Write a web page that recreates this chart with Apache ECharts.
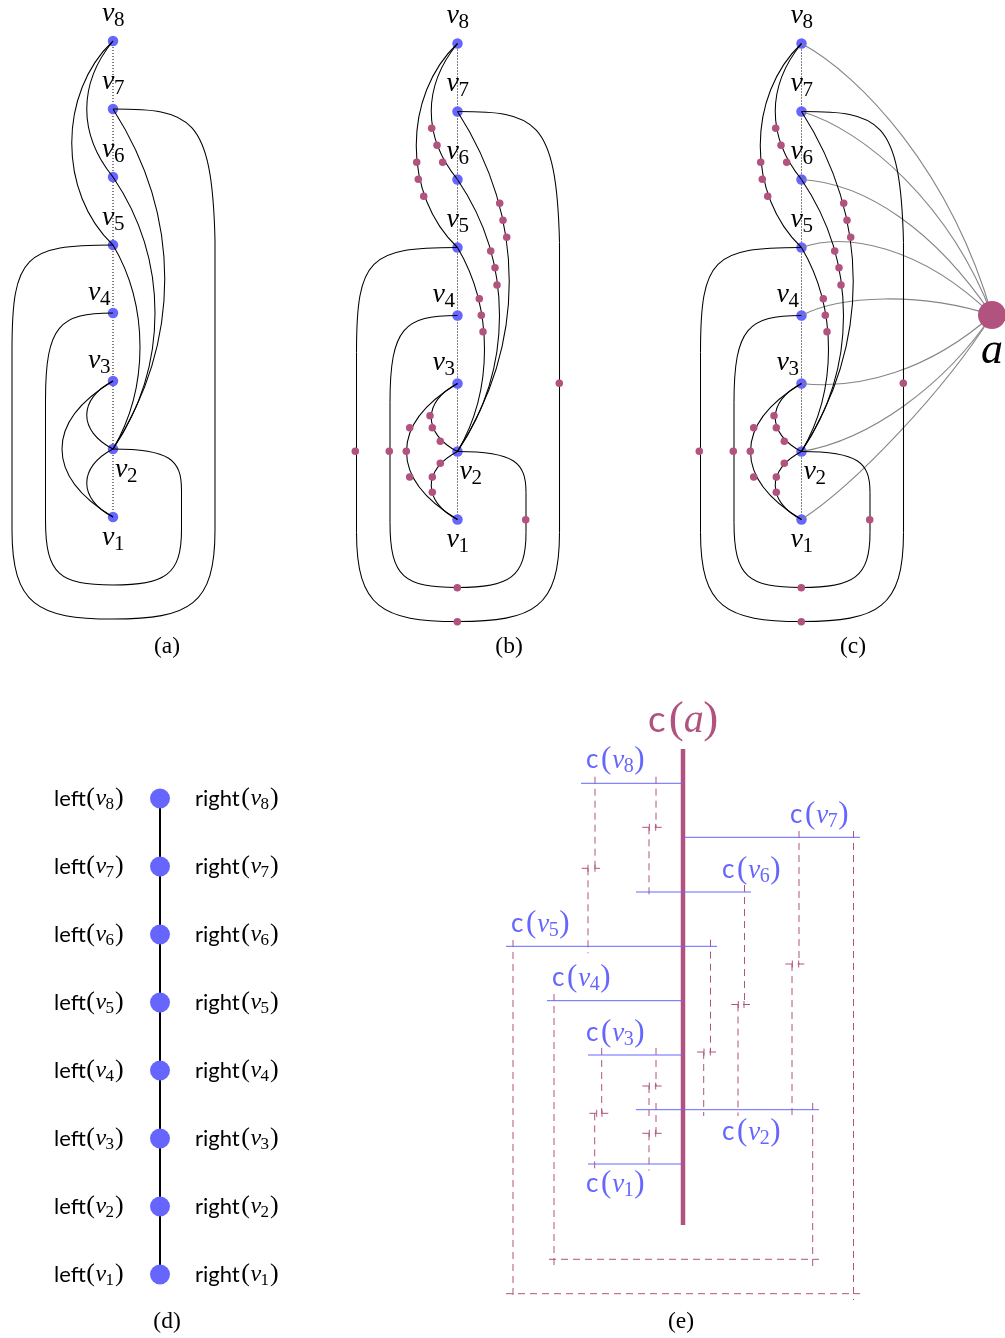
<!DOCTYPE html>
<html><head><meta charset="utf-8">
<style>html,body{margin:0;padding:0;background:#fff}#c{width:1005px;height:1338px}</style>
<script src="https://cdn.jsdelivr.net/npm/echarts@6/dist/echarts.min.js"></script>
</head><body><div id="c"></div>
<script>
// ---------- data (values are read in the picture's own coordinate system) ----------
const vertexX = 113;
const vertexY = [517, 449, 381, 313, 245, 177, 109, 41];
const panelShift = [[0, 0], [344.5, 2.5], [688.5, 2.5]];
const vertexLabelNames = ['1', '2', '3', '4', '5', '6', '7', '8'];
const vertexLabelX = [102, 115, 88, 88, 102, 102, 102, 102];
const vertexLabelBase = [547, 479, 370, 302, 227, 159, 91, 23];
const blackEdges = [
  [[113,41],[58,93,58,193,113,245]],
  [[113,41],[78,84,78,134,113,177]],
  [[113,109],[182,217,182,341,113,449]],
  [[113,177],[169,260,169,366,113,449]],
  [[113,245],[149,306,149,388,113,449]],
  [[113,381],[78,399,78,431,113,449]],
  [[113,449],[78,467,78,499,113,517]],
  [[113,381],[45,422,45,476,113,517]],
  [[113,109],[190,109,212,115,215,240],[215,530],[215,605,190,619,113,619],[38,619,12,605,12,530],[12,350],[12,255,25,245,113,245]],
  [[113,313],[60,313,45.5,325,45.5,400],[45.5,520],[45.5,575,60,585,113,585],[165,585,181.5,575,181.5,530],[181.5,490],[181.5,460,170,449,113,449]]
];
const subdivisionDots = [
  [87.2,125.8],[92.5,142.8],[98.2,159.8],[72.2,159.8],[73.8,176.8],[79.2,193.8],
  [155.2,200.8],[158.5,217.8],[162.2,234.8],[146.2,248.5],[150.5,265.2],[152.5,282.5],
  [134.8,296.2],[136.8,312.8],[138.5,329.2],[85.5,413.2],[87.8,425.2],[95.8,438.8],
  [65.2,425.2],[61.8,448.8],[65.2,474.5],[95.8,460.8],[87.8,474.5],[87.8,489.8],
  [10.8,448.8],[44.8,448.8],[214.8,380.8],[181.2,517.2],[112.8,585.2],[112.8,619.2]
];
const apexPoint = [992, 315];
const apexEdges = [
  [[801.5,43.5],[860,75,950,170,992,315]],
  [[801.5,111.5],[865,130,950,205,992,315]],
  [[801.5,179.5],[865,183,935,230,992,315]],
  [[801.5,247.5],[845,232,920,245,992,315]],
  [[801.5,315.5],[840,295,920,292,992,315]],
  [[801.5,383.5],[860,390,930,370,992,315]],
  [[801.5,451.5],[870,440,945,385,992,315]],
  [[801.5,519.5],[855,485,945,390,992,315]]
];
const captionNames = ['(a)', '(b)', '(c)', '(d)', '(e)'];
const captionX = [167, 509, 853, 167, 681];
const captionBase = [655, 655, 655, 1330, 1330];
const pathX = 160;
const pathY = [1274.5, 1206.5, 1138.5, 1070.5, 1002.5, 934.5, 866.5, 798.5];
const leftLabelX = 54, rightLabelX = 195;
const contactBar = [[683, 749], [683, 1225]];
const contactLines = [
  [588,1164,683,1164],[636,1109.7,819,1109.7],[588,1055,683,1055],[547,1000.7,683,1000.7],
  [506,946.3,717,946.3],[636,892,751,892],[683,837.3,860,837.3],[581,783.3,683,783.3]
];
const dashedLines = [
  [595,776.7,595,868.3],[588,868.3,588,953.3],
  [656,776.7,656,827.3],[649,827.3,649,898.7],
  [799,831,799,964],[792,964,792,1116],
  [744.5,885,744.5,1004.5],[738,1004.5,738,1116],
  [710.5,939.7,710.5,1052],[703.7,1052,703.7,1116],
  [853.5,831,853.5,1300],[513,940,513,1300],[506,1293.7,860,1293.7],
  [554,994,554,1266],[812.7,1103,812.7,1266],[549,1259.3,819,1259.3],
  [656,1048,656,1086],[649,1086,649,1116],
  [656,1103,656,1133.3],[649,1133.3,649,1170.7],
  [601.7,1048,601.7,1113.3],[594.7,1113.3,594.7,1171]
];
const jogBars = [
  [581.7,868.3,588,868.3],[594,868.3,600,868.3],
  [642.3,827.3,649.3,827.3],[654.7,827.3,661.7,827.3],
  [785.3,964,792.3,964],[797.7,964,804.3,964],
  [731.3,1004.5,738.3,1004.5],[743,1004.5,750,1004.5],
  [697,1052,704,1052],[709.3,1052,716,1052],
  [642.3,1086,649.3,1086],[654.7,1086,661.7,1086],
  [642.3,1133.3,649.3,1133.3],[654.7,1133.3,661.7,1133.3],
  [589.3,1113.3,596.7,1113.3],[601,1113.3,608.3,1113.3]
];
const contactLabelSubs = ['1','2','3','4','5','6','7','8'];
const contactLabelX = [586,722,586,552,511,722,790,586];
const contactLabelBase = [1193.5,1141.5,1042.5,987.5,933.5,879.5,824.5,769.5];

// ---------- style ----------
const BLUE = '#6666ff', MAG = '#b2527f', GRAY = '#858585';
const SERIF = '"Liberation Serif"', SANS = 'Lato';

// ---------- helpers ----------
const mc = document.createElement('canvas').getContext('2d');
function runsToEls(api, x, base, runs, color) {
  const els = [];
  for (const [text, font, dy, gap] of runs) {
    mc.font = font;
    const m = mc.measureText(text);
    const mid = (m.fontBoundingBoxAscent - m.fontBoundingBoxDescent) / 2;
    const p = api.coord([x, base + (dy || 0)]);
    els.push({type: 'text', x: p[0], y: p[1] - mid,
      style: {text, font, fill: color, align: 'left', verticalAlign: 'middle'}});
    x += m.width + (gap || 0);
  }
  return els;
}
function shiftPath(path, s) {
  return path.map(seg => seg.map((v, i) => v + s[i % 2]));
}
function curveSeries(paths, color, width, dash, z) {
  return {
    type: 'custom', coordinateSystem: 'cartesian2d', silent: true, z, clip: false,
    data: paths.map((p, i) => [p[0][0], p[0][1], i]),
    renderItem(params, api) {
      const path = paths[api.value(2)];
      const style = {stroke: color, lineWidth: width, fill: 'none', lineDash: dash || null};
      const children = [];
      let cur = api.coord(path[0]);
      for (let k = 1; k < path.length; k++) {
        const seg = path[k];
        if (seg.length === 2) {
          const e = api.coord(seg);
          children.push({type: 'line', shape: {x1: cur[0], y1: cur[1], x2: e[0], y2: e[1]}, style});
          cur = e;
        } else {
          const a = api.coord(seg.slice(0, 2)), b = api.coord(seg.slice(2, 4)), e = api.coord(seg.slice(4, 6));
          children.push({type: 'bezierCurve', shape: {x1: cur[0], y1: cur[1], cpx1: a[0], cpy1: a[1], cpx2: b[0], cpy2: b[1], x2: e[0], y2: e[1]}, style});
          cur = e;
        }
      }
      return {type: 'group', children};
    }
  };
}
function lineSeries(lines, color, width, dash, z) {
  return curveSeries(lines.map(l => [[l[0], l[1]], [l[2], l[3]]]), color, width, dash, z);
}
function dotSeries(points, size, color, z) {
  return {type: 'scatter', silent: true, z, symbol: 'circle', symbolSize: size, clip: false,
    itemStyle: {color, opacity: 1}, data: points};
}
function textSeries(items, z) {
  return {
    type: 'custom', coordinateSystem: 'cartesian2d', silent: true, z, clip: false,
    data: items.map((it, i) => [it.x, it.base, i]),
    renderItem(params, api) {
      const it = items[api.value(2)];
      return {type: 'group', children: runsToEls(api, it.x, it.base, it.runs, it.color)};
    }
  };
}

// ---------- assemble ----------
const it = s => 'italic ' + s + 'px ' + SERIF;
const rm = s => s + 'px ' + SERIF;
const sf = s => s + 'px ' + SANS;
const series = [];
const textItems = [];

panelShift.forEach((s, pi) => {
  series.push(lineSeries([[vertexX + s[0], vertexY[7] + s[1], vertexX + s[0], vertexY[0] + s[1]]], '#000', 1, [1, 2], 2));
  series.push(dotSeries(vertexY.map(y => [vertexX + s[0], y + s[1]]), 10.5, BLUE, 3));
  series.push(curveSeries(blackEdges.map(p => shiftPath(p, s)), '#000', 1.05, null, 5));
  if (pi > 0) series.push(dotSeries(subdivisionDots.map(d => [d[0] + s[0], d[1] + s[1]]), 7.5, MAG, 6));
  vertexLabelNames.forEach((n, i) => {
    textItems.push({x: vertexLabelX[i] + s[0], base: vertexLabelBase[i] + s[1], color: '#000',
      runs: [['v', it(28), 0, -0.5], [n, rm(21), 4, 0]]});
  });
});
series.push(curveSeries(apexEdges, GRAY, 1.1, null, 4));
series.push(dotSeries([apexPoint], 28, MAG, 7));
textItems.push({x: 981, base: 366, color: '#000', runs: [['a', it(44), 0, 0]]});
captionNames.forEach((c, i) => {
  mc.font = rm(23.5);
  textItems.push({x: captionX[i] - mc.measureText(c).width / 2, base: captionBase[i], color: '#000', runs: [[c, rm(23.5), 0, 0]]});
});

// panel d
series.push(lineSeries([[pathX, pathY[0], pathX, pathY[7]]], '#000', 2, null, 2));
series.push(dotSeries(pathY.map(y => [pathX, y]), 20, BLUE, 3));
pathY.forEach((y, i) => {
  const sub = vertexLabelNames[i];
  const tail = [['(', rm(26), 0, 0.5], ['v', it(24), 0, -0.5], [sub, rm(17), 3, 1], [')', rm(26), 0, 0]];
  textItems.push({x: leftLabelX, base: y + 8.5, color: '#000', runs: [['left', sf(22), 0, 0.5]].concat(tail)});
  textItems.push({x: rightLabelX, base: y + 8.5, color: '#000', runs: [['right', sf(22), 0, 1.5]].concat(tail)});
});

// panel e
const jogTicks = jogBars.map((b, i) => {
  const x = i % 2 === 0 ? b[2] : b[0] + 1;
  return [x, b[1] - 3.5, x, b[1] + 3.5];
});
series.push(lineSeries(dashedLines, MAG, 1, [7, 5], 2));
series.push(lineSeries(jogBars.concat(jogTicks), MAG, 1, null, 2));
series.push(lineSeries([[contactBar[0][0], contactBar[0][1], contactBar[1][0], contactBar[1][1]]], MAG, 4.5, null, 3));
series.push(lineSeries(contactLines, BLUE, 1, null, 4));
contactLabelSubs.forEach((n, i) => {
  textItems.push({x: contactLabelX[i], base: contactLabelBase[i], color: BLUE,
    runs: [['c', sf(26), 0, 2.5], ['(', rm(31), 1, 1], ['v', it(27), 0, -0.5], [n, rm(20), 4, 0.5], [')', rm(31), 1, 0]]});
});
textItems.push({x: 648, base: 734.5, color: MAG,
  runs: [['c', sf(37), 0, 3], ['(', rm(45), 1, 0], ['a', it(40), 0, -0.5], [')', rm(45), 1, 0]]});

series.push(textSeries(textItems, 10));

const chart = echarts.init(document.getElementById('c'), null, {renderer: 'canvas', width: 1005, height: 1338});
chart.setOption({
  animation: false,
  backgroundColor: '#fff',
  grid: {left: 0, right: 0, top: 0, bottom: 0},
  xAxis: {type: 'value', min: 0, max: 1005, show: false},
  yAxis: {type: 'value', min: 0, max: 1338, inverse: true, show: false},
  series
});
</script></body></html>
